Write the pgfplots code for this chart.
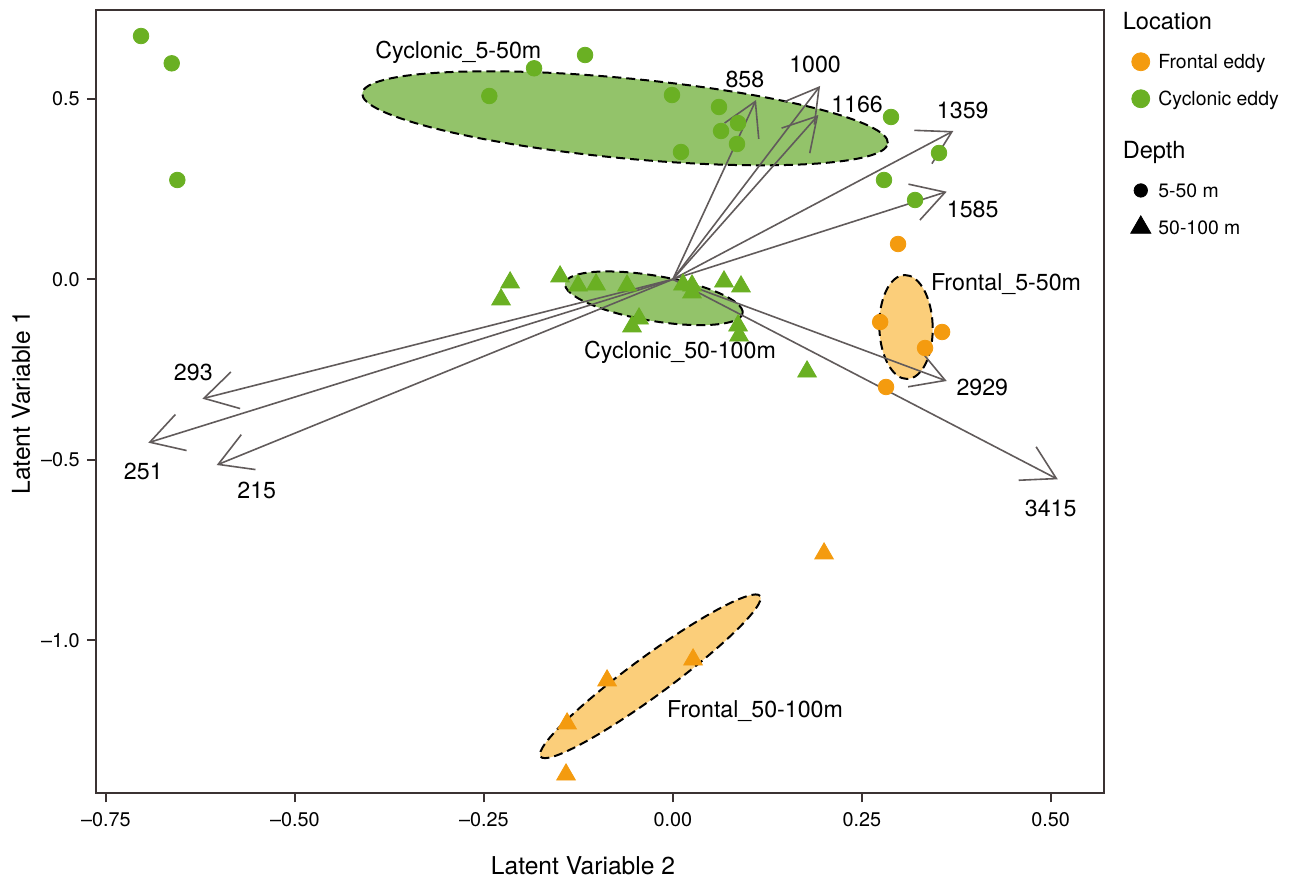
\documentclass[border=0pt]{standalone}
\usepackage{pgfplots}
\pgfplotsset{compat=1.18}
\usetikzlibrary{arrows.meta}
\usepackage{fontspec}
\setmainfont{TeX Gyre Heros}
\definecolor{fgreen}{RGB}{106,176,35}
\definecolor{forange}{RGB}{244,155,15}
\definecolor{egreen}{RGB}{147,195,106}
\definecolor{eorange}{RGB}{251,206,122}
\definecolor{axgray}{RGB}{59,51,51}
\definecolor{argray}{RGB}{97,91,91}
\newcommand{\fs}[1]{\fontsize{#1}{#1}\selectfont}
\tikzset{
  lab/.style={font=\fs{11.6bp}, inner sep=0pt, text height=8.33bp, text depth=0pt, anchor=center},
  ell/.style={draw=black, line width=1bp, dash pattern=on 4.5bp off 2.5bp},
}
\pgfplotsset{
  arr/.style={forget plot, draw=argray, line width=0.8bp, -{Straight Barb[length=16.3bp, width=18.85bp]}},
}
\begin{document}
\begin{tikzpicture}
\useasboundingbox (-48bp,-42.35bp) rectangle (596.5bp,396.65bp);
\begin{axis}[
  at={(0,0)}, anchor=south west,
  scale only axis, width=504bp, height=391.65bp,
  xmin=-0.7632, xmax=0.5705, ymin=-1.4238, ymax=0.7460,
  axis line style={draw=axgray, line width=1bp},
  every tick/.style={draw=axgray, line width=1bp},
  tick align=outside, major tick length=4.5bp,
  xtick pos=lower, ytick pos=left,
  xtick={-0.75,-0.5,-0.25,0,0.25,0.5},
  xticklabels={–0.75,–0.50,–0.25,0.00,0.25,0.50},
  ytick={-1,-0.5,0,0.5},
  yticklabels={–1.0,–0.5,0.0,0.5},
  ticklabel style={font=\fs{9.9bp}, inner sep=0pt, text height=7.1bp, text depth=0pt},
  xticklabel style={anchor=north, yshift=-5bp},
  yticklabel style={anchor=east, xshift=-3.5bp},
  xlabel={Latent Variable 2}, ylabel={Latent Variable 1},
  label style={font=\fs{12.3bp}, inner sep=0pt, text height=8.8bp, text depth=0pt},
  xlabel style={at={(axis description cs:0.4831,-0.0928)}, anchor=center},
  ylabel style={at={(axis description cs:-0.0744,0.4989)}, anchor=center},
  legend cell align=left,
  legend image code/.code={\draw plot coordinates {(0bp,0bp)};},
  legend style={draw=none, fill=none, inner sep=0pt, outer sep=0pt,
    at={(1.0265,1.0127)}, anchor=north west,
    row sep=1.4bp, column sep=3.8bp, font=\fs{9.7bp},
    nodes={inner sep=0pt, text depth=}},
]
% ellipses
\draw[ell, fill=egreen, rotate around={-5.43:(axis cs:-0.0632,0.4460)}] (axis cs:-0.0632,0.4460) ellipse [x radius=132bp, y radius=20bp];
\draw[ell, fill=egreen, rotate around={-9.58:(axis cs:-0.0251,-0.0526)}] (axis cs:-0.0251,-0.0526) ellipse [x radius=45bp, y radius=11.3bp];
\draw[ell, fill=eorange, rotate around={1.5:(axis cs:0.3085,-0.1321)}] (axis cs:0.3085,-0.1321) ellipse [x radius=13.35bp, y radius=26bp];
\draw[ell, fill=eorange, rotate around={36.2:(axis cs:-0.0298,-1.0997)}] (axis cs:-0.0298,-1.0997) ellipse [x radius=68bp, y radius=9.75bp];

% Cyclonic 5-50 m
\addplot[forget plot, only marks, mark=*, mark size=3.9bp, color=fgreen] coordinates {
(-0.7036,0.6739) (-0.6630,0.5983) (-0.6556,0.2751) (-0.2428,0.5078)
(-0.1836,0.5845) (-0.1161,0.6213) (-0.0011,0.5105) (0.0108,0.3526)
(0.0611,0.4773) (0.0863,0.4327) (0.0638,0.4108) (0.0849,0.3748)
(0.2887,0.4496) (0.3522,0.3499) (0.2794,0.2751) (0.3205,0.2197)
};
% Frontal 5-50 m
\addplot[forget plot, only marks, mark=*, mark size=3.9bp, color=forange] coordinates {
(0.2980,0.0978) (0.2743,-0.1183) (0.3563,-0.1460) (0.3337,-0.1903) (0.2821,-0.2983)
};
% Cyclonic 50-100 m
\addplot[forget plot, only marks, mark=triangle*, mark size=5.4bp, color=fgreen] coordinates {
(-0.2153,-0.0091) (-0.2273,-0.0562) (-0.1492,0.0075) (-0.1254,-0.0175)
(-0.1016,-0.0147) (-0.0606,-0.0175) (-0.0447,-0.1089) (-0.0540,-0.1310)
(0.0135,-0.0147) (0.0254,-0.0175) (0.0254,-0.0368) (0.0677,-0.0064)
(0.0902,-0.0202) (0.0863,-0.1283) (0.0876,-0.1560) (0.1776,-0.2557)
};
% Frontal 50-100 m
\addplot[forget plot, only marks, mark=triangle*, mark size=5.4bp, color=forange] coordinates {
(0.2001,-0.7598) (0.0268,-1.0535) (-0.0870,-1.1116) (-0.1399,-1.2307) (-0.1413,-1.3720)
};

% loading arrows
\addplot[arr] coordinates {(0,0) (0.1101,0.4967)};
\addplot[arr] coordinates {(0,0) (0.1948,0.5355)};
\addplot[arr] coordinates {(0,0) (0.1925,0.4551)};
\addplot[arr] coordinates {(0,0) (0.3711,0.4108)};
\addplot[arr] coordinates {(0,0) (0.3624,0.2427)};
\addplot[arr] coordinates {(0,0) (0.3624,-0.2817)};
\addplot[arr] coordinates {(0,0) (0.5093,-0.5540)};
\addplot[arr] coordinates {(0,0) (-0.6225,-0.3307)};
\addplot[arr] coordinates {(0,0) (-0.6940,-0.4526)};
\addplot[arr] coordinates {(0,0) (-0.6035,-0.5144)};

% arrow labels
\node[lab] at (axis cs:0.0953,0.5546) {858};
\node[lab] at (axis cs:0.1882,0.5961) {1000};
\node[lab] at (axis cs:0.2438,0.4853) {1166};
\node[lab] at (axis cs:0.3836,0.4690) {1359};
\node[lab] at (axis cs:0.3968,0.1939) {1585};
\node[lab] at (axis cs:0.4095,-0.2975) {2929};
\node[lab] at (axis cs:0.5000,-0.6327) {3415};
\node[lab] at (axis cs:-0.6344,-0.2576) {293};
\node[lab] at (axis cs:-0.7006,-0.5310) {251};
\node[lab] at (axis cs:-0.5505,-0.5837) {215};

% group labels
\node[lab] at (axis cs:-0.2838,0.6352) {Cyclonic\_5-50m};
\node[lab] at (axis cs:0.0095,-0.1958) {Cyclonic\_50-100m};
\node[lab] at (axis cs:0.4409,-0.0083) {Frontal\_5-50m};
\node[lab] at (axis cs:0.1088,-1.1911) {Frontal\_50-100m};

% legend
\addlegendimage{empty legend}
\addlegendentry{\fs{11.8bp}\rule[-6.2bp]{0pt}{20.9bp}\hspace{-17.8bp}Location}
\addlegendimage{mark=*, mark size=4.5bp, color=forange}
\addlegendentry{\rule[-5.07bp]{0pt}{17.1bp}Frontal eddy}
\addlegendimage{mark=*, mark size=4.5bp, color=fgreen}
\addlegendentry{\rule[-5.07bp]{0pt}{17.1bp}Cyclonic eddy}
\addlegendimage{empty legend}
\addlegendentry{\fs{11.8bp}\rule[-5.91bp]{0pt}{25.95bp}\hspace{-17.8bp}Depth}
\addlegendimage{mark=*, mark size=3.35bp, color=black}
\addlegendentry{\rule[-5.07bp]{0pt}{17.1bp}5-50 m}
\addlegendimage{mark=triangle*, mark size=5.8bp, color=black}
\addlegendentry{\rule[-5.07bp]{0pt}{17.1bp}50-100 m}
\end{axis}
\end{tikzpicture}
\end{document}
